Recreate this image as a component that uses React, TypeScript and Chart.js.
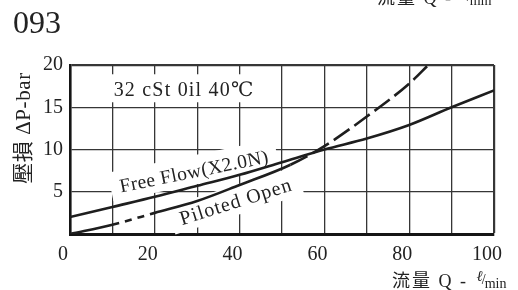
import React, { useEffect, useRef } from "react";
import { Chart, registerables } from "chart.js";

Chart.register(...registerables);

const TITLE = "093";
const Q_FREE = [0, 10, 20, 30, 40, 50, 60, 70, 80, 90, 100];
const DP_FREE = [2.0, 3.2, 4.4, 5.7, 7.0, 8.5, 10.0, 11.3, 12.9, 15.0, 17.0];
const Q_PILOT = [0, 10, 20, 30, 40, 52, 60, 70, 80, 84.5];
const DP_PILOT = [0, 1.1, 2.5, 3.9, 5.8, 8.2, 10.4, 13.9, 17.8, 20];
const X_LABEL_STEP = 20;
const Y_HIDDEN_TICKS = [0];
const LABEL_FREE = "Free Flow(X2.0N)";
const LABEL_PILOT = "Piloted Open";
const LABEL_OIL = "32 cSt 0il 40℃";
const Y_TITLE = "壓損 ΔP-bar";
const X_TITLE_MAIN = "流量 Q - ";
const X_TITLE_UNIT = ["ℓ", "/", "min"];

const SERIF = '"Liberation Serif", "DejaVu Serif", "Noto Sans CJK JP", serif';
const INK = "#222";

function drawQTitle(ctx: CanvasRenderingContext2D, x: number, base: number) {
  ctx.save();
  ctx.fillStyle = INK;
  ctx.textAlign = "left";
  ctx.textBaseline = "alphabetic";
  ctx.font = `18px ${SERIF}`;
  (ctx as any).letterSpacing = "2px";
  ctx.fillText(X_TITLE_MAIN, x, base);
  let w = ctx.measureText(X_TITLE_MAIN).width + 2;
  (ctx as any).letterSpacing = "0px";
  ctx.font = `italic 15px ${SERIF}`;
  ctx.fillText(X_TITLE_UNIT[0], x + w, base - 6);
  w += ctx.measureText(X_TITLE_UNIT[0]).width - 1;
  ctx.font = `14px ${SERIF}`;
  ctx.fillText(X_TITLE_UNIT[1], x + w, base - 3);
  w += ctx.measureText(X_TITLE_UNIT[1]).width - 1;
  ctx.font = `14px ${SERIF}`;
  ctx.fillText(X_TITLE_UNIT[2], x + w, base + 1);
  ctx.restore();
}

function rotatedBox(
  ctx: CanvasRenderingContext2D,
  text: string,
  x: number,
  y: number,
  angle: number,
  font: string,
  spacing: number,
  fill: boolean
) {
  ctx.save();
  ctx.translate(x, y);
  ctx.rotate(angle);
  ctx.font = font;
  (ctx as any).letterSpacing = spacing + "px";
  ctx.textAlign = "left";
  ctx.textBaseline = "alphabetic";
  const w = ctx.measureText(text).width;
  if (fill) {
    ctx.fillStyle = "#fff";
    ctx.fillRect(-9, -22, w + 18, 29);
  } else {
    ctx.fillStyle = INK;
    ctx.fillText(text, 0, 0);
  }
  ctx.restore();
}

const textPlugin = {
  id: "texts",
  beforeDatasetsDraw(chart: any) {
    const { ctx, scales } = chart;
    const x = scales.x;
    const y = scales.y;
    ctx.save();
    ctx.fillStyle = "#fff";
    ctx.font = `20px ${SERIF}`;
    (ctx as any).letterSpacing = "1.2px";
    const ow = ctx.measureText(LABEL_OIL).width;
    const ox = x.getPixelForValue(10.3);
    const oy = y.getPixelForValue(16.3);
    ctx.fillRect(ox - 6, oy - 22, ow + 12, 28);
    ctx.restore();
    rotatedBox(ctx, LABEL_FREE, x.getPixelForValue(12), y.getPixelForValue(4.9), (-11.5 * Math.PI) / 180, `19.5px ${SERIF}`, 0.4, true);
    rotatedBox(ctx, LABEL_PILOT, x.getPixelForValue(26.4), y.getPixelForValue(1.05), (-17.5 * Math.PI) / 180, `20px ${SERIF}`, 1, true);
  },
  afterDraw(chart: any) {
    const { ctx, scales } = chart;
    const x = scales.x;
    const y = scales.y;
    ctx.save();
    ctx.fillStyle = INK;
    ctx.textAlign = "left";
    ctx.textBaseline = "alphabetic";
    ctx.font = `32px ${SERIF}`;
    ctx.fillText(TITLE, 13, 33);
    ctx.font = `20px ${SERIF}`;
    (ctx as any).letterSpacing = "1.2px";
    ctx.fillText(LABEL_OIL, x.getPixelForValue(10.3), y.getPixelForValue(16.3));
    ctx.restore();

    rotatedBox(ctx, LABEL_FREE, x.getPixelForValue(12), y.getPixelForValue(4.9), (-11.5 * Math.PI) / 180, `19.5px ${SERIF}`, 0.4, false);
    rotatedBox(ctx, LABEL_PILOT, x.getPixelForValue(26.4), y.getPixelForValue(1.05), (-17.5 * Math.PI) / 180, `20px ${SERIF}`, 1, false);

    // y-axis title
    ctx.save();
    ctx.translate(24, 128);
    ctx.rotate(-Math.PI / 2);
    ctx.fillStyle = INK;
    ctx.textAlign = "center";
    ctx.textBaseline = "middle";
    ctx.font = `21px ${SERIF}`;
    (ctx as any).letterSpacing = "0.6px";
    ctx.fillText(Y_TITLE, 0, 0);
    ctx.restore();

    // x-axis title and clipped fragment at top
    drawQTitle(ctx, 392, 287);
    drawQTitle(ctx, 377, 4);
  },
};

export default function App() {
  const ref = useRef<HTMLCanvasElement | null>(null);
  useEffect(() => {
    document.body.style.margin = "0";
    const canvas = ref.current;
    if (!canvas) return;
    const chart = new Chart(canvas, {
      type: "line",
      data: {
        datasets: [
          {
            label: LABEL_FREE,
            data: Q_FREE.map((q, i) => ({ x: q, y: DP_FREE[i] })),
            borderColor: "#1e1e1e",
            borderWidth: 2.6,
            pointRadius: 0,
            cubicInterpolationMode: "monotone",
          },
          {
            label: LABEL_PILOT,
            data: Q_PILOT.map((q, i) => ({ x: q, y: DP_PILOT[i] })),
            borderColor: "#1e1e1e",
            borderWidth: 2.6,
            pointRadius: 0,
            cubicInterpolationMode: "monotone",
            segment: {
              borderDash: (c: any) => {
                const x0 = c.p0.parsed.x;
                if (x0 >= 10 && x0 < 20) return [7, 6];
                if (x0 >= 52) return [19, 6];
                return [];
              },
            },
          },
        ],
      },
      options: {
        animation: false,
        responsive: false,
        layout: { padding: { left: 0, top: 65, right: 13, bottom: 0 } },
        plugins: { legend: { display: false }, tooltip: { enabled: false } },
        scales: {
          x: {
            type: "linear",
            min: 0,
            max: 100,
            afterFit: (s: any) => {
              s.height = 56;
            },
            ticks: {
              stepSize: 10,
              autoSkip: false,
              maxRotation: 0,
              padding: 9,
              labelOffset: -7,
              color: INK,
              font: { family: SERIF, size: 20 },
              callback: (v: any) => (Number(v) % X_LABEL_STEP === 0 ? String(v) : ""),
            },
            grid: {
              drawTicks: false,
              color: "#363636",
              lineWidth: (c: any) => (c.tick && c.tick.value === 100 ? 2.2 : 1.3),
            },
            border: { display: true, color: "#151515", width: 3 },
          },
          y: {
            type: "linear",
            min: 0,
            max: 20,
            afterFit: (s: any) => {
              s.width = 70;
            },
            ticks: {
              stepSize: 5,
              padding: 7,
              color: INK,
              font: { family: SERIF, size: 20 },
              callback: (v: any) => (Y_HIDDEN_TICKS.includes(Number(v)) ? "" : String(v)),
            },
            grid: {
              drawTicks: false,
              color: "#363636",
              lineWidth: (c: any) => (c.tick && c.tick.value === 20 ? 2.2 : 1.3),
            },
            border: { display: true, color: "#151515", width: 2.6 },
          },
        },
      },
      plugins: [textPlugin],
    } as any);
    return () => chart.destroy();
  }, []);
  return (
    <div style={{ position: "absolute", left: 0, top: 0, width: 518, height: 290, background: "#fff" }}>
      <canvas ref={ref} width={518} height={290} style={{ display: "block" }} />
    </div>
  );
}
